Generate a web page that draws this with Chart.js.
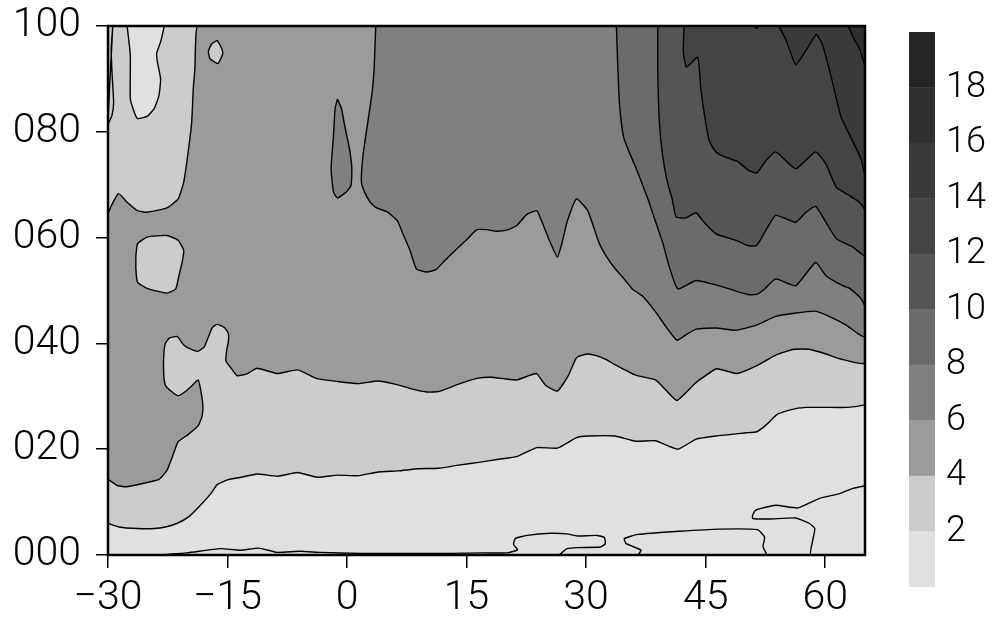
<!DOCTYPE html>
<html>
<head>
<meta charset="utf-8">
<title>Contour</title>
<script src="https://cdn.jsdelivr.net/npm/chart.js@4.4.1/dist/chart.umd.min.js"></script>
<style>
  html, body { margin: 0; background: #fff; }
  #wrap { position: relative; width: 992px; height: 620px; }
  #main { position: absolute; left: 0; top: 0; width: 880px; height: 620px; }
  #bar { position: absolute; left: 880px; top: 0; width: 112px; height: 620px; }
</style>
</head>
<body>
<div id="wrap">
  <div id="main"><canvas id="plot"></canvas></div>
  <div id="bar"><canvas id="scale"></canvas></div>
</div>
<script>
// axes
const X_MIN = -30, X_MAX = 65, Y_MIN = 0, Y_MAX = 100;
const xTicks = [-30, -15, 0, 15, 30, 45, 60];
const xTickLabels = ["−30", "−15", "0", "15", "30", "45", "60"];
const yTicks = [0, 20, 40, 60, 80, 100];
const yTickLabels = ["000", "020", "040", "060", "080", "100"];

// contour levels and their grey shades (0-2, 2-4, ... 18-20)
const levelEdges = [0, 2, 4, 6, 8, 10, 12, 14, 16, 18, 20];
const barLabels = [2, 4, 6, 8, 10, 12, 14, 16, 18];
const shades = ["#e0e0e0", "#cccccc", "#9b9b9b", "#808080", "#6b6b6b",
                "#555555", "#444444", "#3a3a3a", "#2f2f2f", "#242424"];

// contour lines, [x, y] in data units
const edge2 = [[-30,6],[-28.6,5.3],[-26.3,5],[-24.2,5],[-22.8,5.3],[-21.3,6],[-19.8,7.3],[-18.4,9.4],[-17.1,11.6],[-16.3,13.3],[-15,14.2],[-13.3,14.7],[-11.3,15.3],[-8.7,14.9],[-6.2,15.6],[-3.7,14.7],[-1.2,15.1],[1.4,15],[3.9,15.7],[6.4,15.9],[8.9,16.3],[11.5,16.4],[14,17],[16.5,17.5],[19,18.1],[21.3,18.6],[23.8,20.3],[26.4,20.2],[28.8,22.2],[30.3,22.5],[33.6,22.5],[36.2,21.5],[38.7,21.6],[41.5,20],[43.8,21.9],[46.3,22.5],[50.1,23.1],[51.4,23.3],[52.6,24.6],[53.9,26.5],[55.5,27.4],[57.6,27.9],[62.6,27.9],[64.3,28.2],[65,28.5]];
const edgeStrip = [[-29.4,100],[-29.6,95.7],[-29.5,91.3],[-29.3,85.6],[-29.5,83.1],[-30,81.5]];
const edgePale = [[-27.6,100],[-27.2,94.5],[-27.2,86.2],[-26.7,83.7],[-26.3,82.5],[-25.1,82.9],[-24.2,84.4],[-23.6,86.9],[-23.4,90],[-23.8,93.2],[-23.9,94.8],[-23.4,97],[-23.1,98.9],[-23,100]];
const edge4Low = [[-30,14.3],[-28.8,13.1],[-27.6,12.9],[-25.1,13.7],[-23.6,14.3],[-22.6,16],[-21.7,19.5],[-21.2,21.4],[-20,22.7],[-18.7,24.4],[-18.2,26.2],[-18.1,28.3],[-18.4,31.5],[-18.7,33.1],[-19.4,32.1],[-20.2,31],[-21.2,30.1],[-22.1,31],[-22.8,32.1],[-23,34],[-23,37.8],[-22.8,40],[-22.3,41],[-21.3,41.3],[-20.5,39.7],[-19.6,38.9],[-18.7,38.5],[-17.9,39.4],[-17.3,41.6],[-16.9,43],[-16.3,43.6],[-15.4,43],[-14.9,41.9],[-14.9,40.3],[-15.1,38.8],[-15.2,36.7],[-14.6,35.4],[-13.8,33.9],[-12.5,34.3],[-11.3,35.3],[-8.7,34.3],[-6.2,35],[-3.9,33.4],[-1.2,32.8],[1.4,32.4],[3.9,32.9],[6,32.3],[8.1,31.4],[10,30.8],[11.5,30.9],[14,32.3],[16.3,33.4],[18.1,33.6],[19.8,33.3],[21.3,33.1],[22.8,33.9],[23.8,34.3],[24.9,32.1],[26.4,31],[27.8,34],[28.8,37.3],[30.1,38],[31.3,37.7],[32.6,36.9],[33.6,36],[36.2,34],[38.7,33.1],[40,31.2],[41.4,29.2],[43.8,32.6],[46.4,35.2],[48.9,34.3],[51.3,35.7],[53.8,37.8],[56.1,38.9],[58,38.9],[60.1,38],[61.8,37.1],[65,36.4]];
const edge4Top = [[-18.7,100],[-19,97],[-19.1,91.9],[-19.3,88.1],[-19.5,81.8],[-20,75.5],[-20.5,70.5],[-21.2,67.3],[-22.6,65.6],[-25.1,64.8],[-26.3,65.1],[-27.6,66.7],[-28.7,68.3],[-30,64.3]];
const blob4 = [[-26.5,56.6],[-26.3,58.8],[-25.1,60.1],[-22.6,60.4],[-21.2,59.5],[-20.5,57.6],[-20.7,55.3],[-21.1,52.8],[-21.5,50.3],[-22.6,49.5],[-25.1,50.4],[-26.3,51.6],[-26.5,54.1]];
const isle4 = [[-16.3,97.3],[-15.8,96],[-15.6,94.8],[-16.2,92.9],[-17.2,93.8],[-17.4,95.2],[-17,96.6]];
const edge6 = [[3.6,100],[3.4,91.9],[3.1,86.9],[2.6,81.8],[2,75.5],[1.8,70.5],[2.2,68.6],[2.9,66.7],[3.7,65.6],[5,64.9],[6.3,63.2],[7.1,60.4],[7.9,57.6],[8.7,54.1],[10,53.5],[11.2,54],[12.3,55.7],[13.6,57.6],[15,59.6],[16.3,61.5],[17.5,61.5],[18.8,61.2],[20,61.4],[21.3,62.3],[22.5,64.3],[23.8,65.1],[24.4,63.2],[25.5,59.1],[26.4,56.3],[27,59.1],[27.6,62.9],[28.8,67.3],[30.2,65.1],[31.6,59.1],[32.6,56.3],[33.6,54.2],[34.6,52.5],[35.8,50.3],[37.1,48.9],[38.7,46],[40,43.2],[41.4,40.6],[42.5,41.6],[43.8,42.7],[46.3,42.9],[48.8,42.5],[51.3,43.4],[53.8,45.1],[56.1,45.7],[58.8,46.1],[60.5,45.1],[62.6,43.5],[65,41.3]];
const isle6 = [[-1.2,86.2],[-0.7,84.4],[-0.3,81.2],[0.3,76.8],[0.6,73],[0.5,69.9],[-0.1,68.6],[-1.2,67.5],[-1.7,68.6],[-2,73],[-1.7,79.3],[-1.5,84.4]];
const edge8 = [[33.8,100],[34,91.3],[34.2,85],[34.7,79],[35.4,76.2],[36.3,73],[37.1,69.9],[37.9,66.7],[38.6,63.5],[39.6,59.1],[40.4,54.7],[41.5,50.3],[43.8,51.9],[45.9,51.2],[48,50.3],[49.2,49.7],[50.5,49.2],[51.5,49.3],[52.4,50.3],[53.8,52.2],[56.3,50.9],[58.8,55.3],[60.1,52.8],[62.2,50.9],[63.1,50.4],[64.5,48.5],[65,47.2]];
const edge10 = [[39,100],[39,91.3],[39.2,81.8],[39.6,75.5],[40.2,70.5],[40.8,67.3],[41.3,63.9],[42.5,63.7],[43.8,64.7],[44.8,62.9],[46.3,60.7],[48.8,59.5],[50.3,58.5],[51.4,58.5],[52.6,61.5],[53.8,64.2],[56.3,62.9],[57.6,64.8],[58.8,65.9],[60.1,62.9],[61.4,59.8],[63.5,58.2],[65,56.6]];
const edge12 = [[42.3,100],[42.2,95.1],[42.6,92.2],[44,94.1],[44.4,88.1],[45,81.8],[45.5,78.1],[46.3,76.2],[47.5,75.2],[49,74.4],[50.3,72.8],[51.4,72.2],[52.6,74.6],[53.8,76.2],[56.3,73],[58.8,76.2],[60.1,73.9],[61.4,69.5],[63,68],[64.3,66.7],[65,65.4]];
const edge14 = [[54.2,100],[55.1,97.3],[56.3,92.7],[57.6,95.4],[58.9,98.4],[59.7,96.3],[60.7,90.7],[62,82.8],[63.5,78.1],[64.5,74.9],[65,71.8]];
const notch14 = [[51.1,100],[51.4,99.5],[51.6,100]];
const edge16 = [[62.9,100],[63.5,97.9],[64.3,95.7],[65,92.6]];
const low1 = [[-23.9,0],[-20.1,0.4],[-15.9,1.2],[-13.4,0.9],[-11.1,1.3],[-8.8,0.5],[-5.9,0.7],[-3.4,0.5],[1.7,0.3],[6.7,0.3],[13,0.3],[17.1,0.4],[20.1,0.4],[21.4,1],[20.9,2],[21.1,3.1],[22.6,3.7],[25.5,4.1],[27.6,4],[28.9,3.6],[31.4,3.7],[32.3,3.3],[32.4,2.1],[31.8,1.5],[28.9,1.4],[27.6,1.2],[27,0.5],[26.6,0]];
const low2 = [[36.5,0],[36.9,0.9],[35,2.2],[34.8,3.1],[36.5,3.9],[41.7,4.5],[46.7,4.9],[51.5,4.8],[52.4,3.4],[52.2,1.6],[52.6,0]];
const low3 = [[65,13.1],[63.5,12.6],[61.8,11.6],[59.3,10.7],[56.6,8.9],[53.8,9.4],[51.3,8.5],[50.9,7.5],[50.9,6.9],[53,6.8],[56.3,7],[58,6],[58.7,5],[58.4,2.5],[58.2,0]];

// filled regions, painted bottom to top: [points, shade index]
const regions = [
  [[...edge2, [X_MAX, Y_MAX], [X_MIN, Y_MAX]], 1],
  [edgeStrip, 1],
  [edgePale, 0],
  [[...edge4Low, [X_MAX, Y_MAX], ...edge4Top], 2],
  [blob4, 1],
  [isle4, 1],
  [[...edge6, [X_MAX, Y_MAX]], 3],
  [isle6, 3],
  [[...edge8, [X_MAX, Y_MAX]], 4],
  [[...edge10, [X_MAX, Y_MAX]], 5],
  [[...edge12, [X_MAX, Y_MAX]], 6],
  [[...edge14, [X_MAX, Y_MAX]], 7],
  [notch14, 7],
  [[...edge16, [X_MAX, Y_MAX]], 8],
  [low1, 0],
  [low2, 0],
  [[...low3, [X_MAX, Y_MIN]], 0],
];

const closeRing = (pts) => [...pts, pts[0]].map(([x, y]) => ({ x, y }));

const FONT = "Roboto, 'Liberation Sans', sans-serif";

// plot background and frame
const plotFrame = {
  id: "plotFrame",
  beforeDatasetsDraw(chart) {
    const { ctx, chartArea: a } = chart;
    ctx.save();
    ctx.fillStyle = shades[0];
    ctx.fillRect(a.left, a.top, a.right - a.left, a.bottom - a.top);
    ctx.restore();
  },
  afterDatasetsDraw(chart) {
    const { ctx, chartArea: a } = chart;
    ctx.save();
    ctx.strokeStyle = "#000";
    ctx.lineWidth = 2.5;
    ctx.strokeRect(a.left, a.top, a.right - a.left, a.bottom - a.top);
    ctx.restore();
  }
};

new Chart(document.getElementById("plot"), {
  type: "line",
  data: {
    datasets: regions.map(([pts, shade], i) => ({
      data: closeRing(pts),
      order: regions.length - i,
      fill: "shape",
      backgroundColor: shades[shade],
      borderColor: "#000",
      borderWidth: 1.4,
      pointRadius: 0,
      tension: 0.15,
    })),
  },
  options: {
    responsive: true,
    maintainAspectRatio: false,
    animation: false,
    events: [],
    layout: { padding: { top: 26, right: 15, left: 0, bottom: 0 } },
    plugins: { legend: { display: false }, tooltip: { enabled: false } },
    scales: {
      x: {
        type: "linear",
        min: X_MIN,
        max: X_MAX,
        afterBuildTicks: (axis) => { axis.ticks = xTicks.map((v) => ({ value: v })); },
        afterFit: (axis) => { axis.height = 65; },
        grid: { drawOnChartArea: false, tickLength: 13, color: "#000", lineWidth: 1.5 },
        border: { display: false },
        ticks: {
          autoSkip: false,
          maxRotation: 0,
          padding: 6,
          color: "#000",
          font: { family: FONT, size: 41, weight: 300 },
          callback: (v) => xTickLabels[xTicks.indexOf(v)],
        },
      },
      y: {
        type: "linear",
        min: Y_MIN,
        max: Y_MAX,
        afterBuildTicks: (axis) => { axis.ticks = yTicks.map((v) => ({ value: v })); },
        afterFit: (axis) => { axis.width = 108; },
        grid: { drawOnChartArea: false, tickLength: 12, color: "#000", lineWidth: 1.5 },
        border: { display: false },
        ticks: {
          padding: 15,
          color: "#000",
          font: { family: FONT, size: 41, weight: 300, lineHeight: 0.5 },
          callback: (v) => yTickLabels[yTicks.indexOf(v)],
        },
      },
    },
  },
  plugins: [plotFrame],
});

// colour bar
new Chart(document.getElementById("scale"), {
  type: "bar",
  data: {
    labels: [""],
    datasets: shades.map((c, i) => ({
      data: [levelEdges[i + 1] - levelEdges[i]],
      backgroundColor: c,
      borderWidth: 0,
      barPercentage: 1,
      categoryPercentage: 1,
    })),
  },
  options: {
    responsive: true,
    maintainAspectRatio: false,
    animation: false,
    events: [],
    layout: { padding: { left: 29, top: 32, bottom: 33, right: 0 } },
    plugins: { legend: { display: false }, tooltip: { enabled: false } },
    scales: {
      x: { stacked: true, display: false },
      y: {
        stacked: true,
        position: "right",
        min: levelEdges[0],
        max: levelEdges[levelEdges.length - 1],
        afterBuildTicks: (axis) => { axis.ticks = barLabels.map((v) => ({ value: v })); },
        afterFit: (axis) => { axis.width = 57; },
        grid: { display: false },
        border: { display: false },
        ticks: {
          padding: 3,
          color: "#000",
          font: { family: FONT, size: 36, weight: 300, lineHeight: 0.5 },
        },
      },
    },
  },
});
</script>
</body>
</html>
